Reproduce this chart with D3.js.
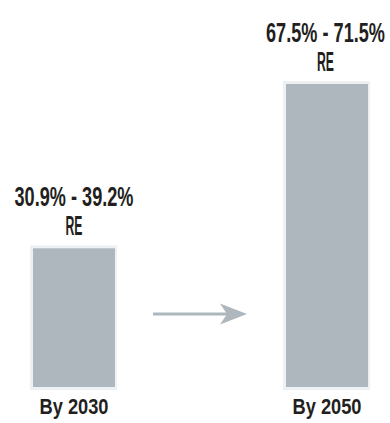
<!DOCTYPE html>
<html>
<head>
<meta charset="utf-8">
<script src="https://cdn.jsdelivr.net/npm/d3@7"></script>
<style>
  html, body { margin: 0; padding: 0; background: #ffffff; }
  svg { display: block; }
  text { font-family: "Liberation Sans Narrow", "Liberation Sans", "DejaVu Sans Condensed", sans-serif; fill: #231f20; }
</style>
</head>
<body>
<svg id="chart" width="390" height="423"></svg>
<script>
// Renewable-energy share targets
const categories = ["By 2030", "By 2050"];
const reLow = [30.9, 67.5];
const reHigh = [39.2, 71.5];
const rangeLabels = ["30.9% - 39.2%", "67.5% - 71.5%"];
const unitLabel = "RE";

const W = 390, H = 423;
const baseY = 387, topY = 84;
const barColor = "#adb7bd";
const haloColor = "#eef1f3";
const rangeWidth = 119;

const svg = d3.select("#chart");

const x = d3.scaleBand()
  .domain(categories)
  .range([12, 389])
  .paddingInner(0.676)
  .paddingOuter(0.083);

const y = d3.scaleLinear()
  .domain([0, d3.max(reLow)])
  .range([baseY, topY]);

const data = categories.map((c, i) => ({ cat: c, low: reLow[i], high: reHigh[i], label: rangeLabels[i] }));

// squeeze a text horizontally to a target width (condensed look)
function condensed(parent, str, cx, cy, size, width) {
  const g = parent.append("g");
  const t = g.append("text")
    .attr("text-anchor", "middle")
    .attr("font-size", size)
    .attr("font-weight", "bold")
    .text(str);
  const natural = t.node().getComputedTextLength();
  g.attr("transform", `translate(${cx},${cy}) scale(${width / natural},1)`);
  return g;
}

// soft halo behind each bar
svg.append("g").selectAll("rect")
  .data(data)
  .join("rect")
  .attr("x", d => x(d.cat) - 3)
  .attr("y", d => y(d.low) - 3)
  .attr("width", x.bandwidth() + 5)
  .attr("height", d => baseY - y(d.low) + 6)
  .attr("fill", haloColor);

svg.append("g").selectAll("rect")
  .data(data)
  .join("rect")
  .attr("x", d => x(d.cat))
  .attr("y", d => y(d.low))
  .attr("width", x.bandwidth())
  .attr("height", d => baseY - y(d.low))
  .attr("fill", barColor);

// value range labels above bars, kept inside the right edge
const labels = svg.append("g");
data.forEach(d => {
  const cx = Math.min(x(d.cat) + x.bandwidth() / 2, W - 5 - rangeWidth / 2);
  const top = y(d.low);
  condensed(labels, d.label, cx, top - 42, 28, rangeWidth);
  condensed(labels, unitLabel, cx, top - 13, 28, 17);
});

// category labels
const cats = svg.append("g");
data.forEach(d => {
  condensed(cats, d.cat, x(d.cat) + x.bandwidth() / 2, 414, 22, 69);
});

// progression arrow between the bars
const ay = 314;
const ax0 = 153, ax1 = 247;
svg.append("line")
  .attr("x1", ax0).attr("y1", ay)
  .attr("x2", ax1 - 12).attr("y2", ay)
  .attr("stroke", barColor)
  .attr("stroke-width", 3);
svg.append("path")
  .attr("d", `M${ax1},${ay} L${ax1 - 27},${ay - 10.5} L${ax1 - 20},${ay} L${ax1 - 27},${ay + 10.5} Z`)
  .attr("fill", barColor);
</script>
</body>
</html>
